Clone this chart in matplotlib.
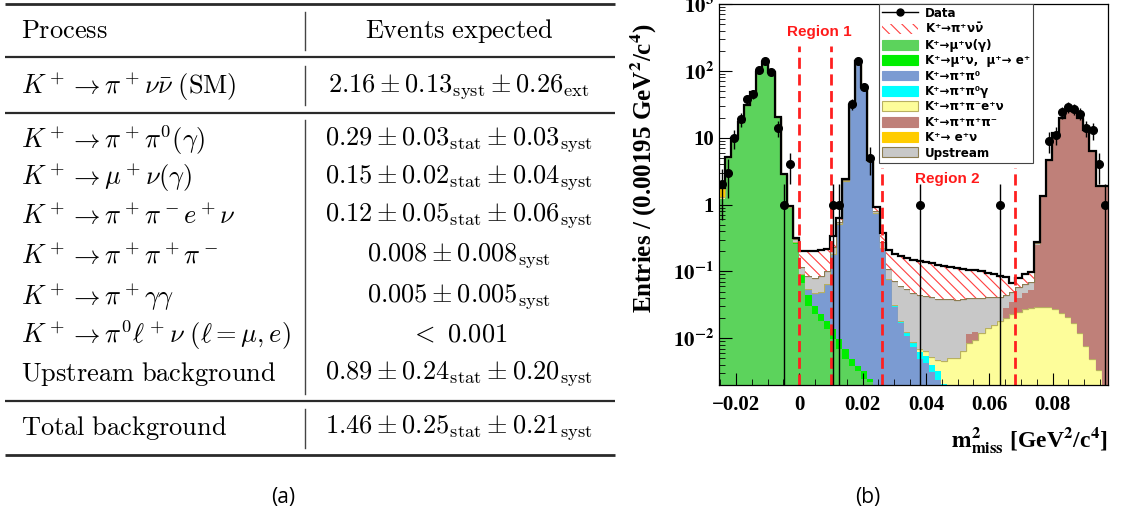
import numpy as np
import matplotlib
matplotlib.use('Agg')
import matplotlib.pyplot as plt
from matplotlib.patches import Patch
from matplotlib.lines import Line2D
from matplotlib.ticker import FuncFormatter, LogLocator, MultipleLocator, NullFormatter

plt.rcParams['font.family'] = ['Liberation Serif', 'DejaVu Serif']
plt.rcParams['font.weight'] = 'bold'
plt.rcParams['mathtext.fontset'] = 'stix'
plt.rcParams['hatch.color'] = '#ff4040'
plt.rcParams['hatch.linewidth'] = 0.8

# ---------------- (a) table ----------------
header = ['Process', 'Events expected']
signal_row = (r'$K^+ \rightarrow \pi^+\nu\bar{\nu}\ (\mathrm{SM})$',
              r'$2.16 \pm 0.13_{\mathrm{syst}} \pm 0.26_{\mathrm{ext}}$')
bkg_processes = [r'$K^+ \rightarrow \pi^+\pi^0(\gamma)$',
                 r'$K^+ \rightarrow \mu^+\nu(\gamma)$',
                 r'$K^+ \rightarrow \pi^+\pi^-e^+\nu$',
                 r'$K^+ \rightarrow \pi^+\pi^+\pi^-$',
                 r'$K^+ \rightarrow \pi^+\gamma\gamma$',
                 r'$K^+ \rightarrow \pi^0\ell^+\nu\ (\ell = \mu, e)$',
                 r'$\mathrm{Upstream\ background}$']
bkg_events = [r'$0.29 \pm 0.03_{\mathrm{stat}} \pm 0.03_{\mathrm{syst}}$',
              r'$0.15 \pm 0.02_{\mathrm{stat}} \pm 0.04_{\mathrm{syst}}$',
              r'$0.12 \pm 0.05_{\mathrm{stat}} \pm 0.06_{\mathrm{syst}}$',
              r'$0.008 \pm 0.008_{\mathrm{syst}}$',
              r'$0.005 \pm 0.005_{\mathrm{syst}}$',
              r'$<\ 0.001$',
              r'$0.89 \pm 0.24_{\mathrm{stat}} \pm 0.20_{\mathrm{syst}}$']
total_row = (r'$\mathrm{Total\ background}$',
             r'$1.46 \pm 0.25_{\mathrm{stat}} \pm 0.21_{\mathrm{syst}}$')

# ---------------- (b) histogram ----------------
bin_width = 0.00195
first_bin = -13        # in units of bin width
n_bins = 63

mu_nu = [1.2, 5.1, 10, 17, 31, 48, 97, 137, 97, 20.5, 2.85, 0.9, 0.26,
         0.068, 0.030, 0.023, 0.018, 0.0136, 0.0097, 0.0069, 0.0049, 0.0039,
         0.0032, 0.0025, 0.0022, 0.0015, 0.001] + [0] * 36
mu_nu_e = [0] * 11 + [0.02, 0.02, 0.022, 0.015, 0.007, 0.005, 0.0044, 0.0039,
                      0.0028, 0.002, 0.001, 0.0007, 0.0007, 0.0003] + [0] * 38
pi_pi0 = [0] * 14 + [0.009, 0.018, 0.027, 0.046, 0.17, 0.5, 2.25, 30.8, 141.8,
                     57.8, 4.5, 0.75, 0.22, 0.075, 0.029, 0.0167, 0.0108, 0.0074,
                     0.0049, 0.0043, 0.0031, 0.0024, 0.0015, 0.0008] + [0] * 25
pi_pi0_g = [0] * 26 + [0.004, 0.003, 0.002, 0.0015, 0.0015, 0.0015, 0.0013,
                       0.0011, 0.0009, 0.0008, 0.0006, 0.0003] + [0] * 25
pi_pi_e_nu = [0.1] + [0] * 31 + [0.0008, 0.001, 0.0012, 0.0015, 0.0025, 0.004,
                                 0.005, 0.0065, 0.0085, 0.0095, 0.012, 0.014,
                                 0.016, 0.018, 0.02, 0.023, 0.025, 0.027, 0.028,
                                 0.029, 0.029, 0.029, 0.027, 0.024, 0.021, 0.017,
                                 0.012, 0.0077, 0.0049, 0.0033, 0]
pi_pi_pi = [0] * 40 + [0.003, 0.003] + [0] * 4 + [0.008, 0.012, 0.015, 0.02, 0.025,
                                                  0.22, 1.3, 4.6, 11.6, 19.6, 25.4,
                                                  25, 19.6, 13.1, 6.4, 1.9, 1.9]
e_nu = [0.45, 0.05] + [0] * 61
upstream = [0.02] * 12 + [0.03] + [0.025, 0.031, 0.032, 0.035, 0.036, 0.05, 0.04,
                                   0.05, 0.05, 0.05, 0.05, 0.05, 0.06, 0.05, 0.032,
                                   0.041, 0.042, 0.042, 0.039, 0.038, 0.037, 0.036,
                                   0.034, 0.034, 0.033, 0.033, 0.032, 0.028, 0.028,
                                   0.028, 0.027, 0.025, 0.024, 0.017, 0.015, 0.018,
                                   0.017, 0.017, 0.02, 0.02] + [0.02] * 10
pnn_signal = [0] * 12 + [0.01] + [0.085, 0.115, 0.125, 0.125, 0.12, 0.1, 0.09, 0.1,
                                  0.1, 0.1, 0.1, 0.1, 0.12, 0.1, 0.1, 0.113, 0.11,
                                  0.106, 0.102, 0.098, 0.095, 0.092, 0.088, 0.083,
                                  0.079, 0.074, 0.07, 0.066, 0.063, 0.06, 0.055,
                                  0.051, 0.044, 0.037, 0.018, 0.022, 0.026, 0.028,
                                  0.01] + [0] * 11
data = [2, 3, 10, 19, 38, 45, 103, 141, 97, 14, 1, 4, 0,
        0, 0, 0, 0, 0, 1, 1, 0, 32, 142, 58, 5,
        0, 0, 0, 0, 0, 0, 0, 1] + [0] * 12 + [1, 0, 0, 0, 0, 0, 0, 0,
                                             9, 11, 24, 29, 27, 23, 14, 13, 4, 1]

region_edges = [0.0, 0.01, 0.026, 0.068]

layers = [
    (mu_nu, '#5cd35c', None, 'K⁺→μ⁺ν(γ)'),
    (mu_nu_e, '#00ee00', None, 'K⁺→μ⁺ν,  μ⁺→ e⁺'),
    (pi_pi0, '#7b9bd2', None, 'K⁺→π⁺π⁰'),
    (pi_pi0_g, '#00ffff', None, 'K⁺→π⁺π⁰γ'),
    (pi_pi_e_nu, '#fdfd9a', '#b8b060', 'K⁺→π⁺π⁻e⁺ν'),
    (pi_pi_pi, '#bf8079', None, 'K⁺→π⁺π⁺π⁻'),
    (e_nu, '#ffcc00', None, 'K⁺→ e⁺ν'),
    (upstream, '#c8c8c8', '#8b7b50', 'Upstream'),
]

edges = bin_width * np.arange(first_bin, first_bin + n_bins + 1)
centers = 0.5 * (edges[:-1] + edges[1:])

fig = plt.figure(figsize=(11.21, 5.19), dpi=100)

# table drawn in pixel coordinates
tab = fig.add_axes([0, 0, 1, 1])
tab.set_xlim(0, 1121)
tab.set_ylim(519, 0)
tab.axis('off')
rule_c = '#2a2a2a'
for y, lw in [(4, 2.0), (57, 1.6), (113, 1.6), (401, 1.6), (455, 2.0)]:
    tab.plot([5, 615], [y, y], color=rule_c, lw=lw, solid_capstyle='butt')
for y0, y1 in [(12, 50), (66, 105), (120, 394), (409, 448)]:
    tab.plot([305, 305], [y0, y1], color='#444444', lw=1.0)

tfs = 19
col1_x, col2_x = 21, 459
def row(y, left, right):
    tab.text(col1_x, y, left, fontsize=tfs, math_fontfamily='cm', ha='left', va='center')
    tab.text(col2_x, y, right, fontsize=tfs, math_fontfamily='cm', ha='center', va='center')

row(31, r'$\mathrm{%s}$' % header[0], r'$\mathrm{Events\ expected}$')
row(87, *signal_row)
for y, p, e in zip([140, 178, 216, 256, 297, 335, 374], bkg_processes, bkg_events):
    row(y, p, e)
row(428, *total_row)

fig.text(283 / 1121, 1 - 497 / 519, '(a)', ha='center', va='center', fontsize=15,
         family='Open Sans', fontweight='normal')
fig.text(868 / 1121, 1 - 497 / 519, '(b)', ha='center', va='center', fontsize=15,
         family='Open Sans', fontweight='normal')

# histogram
ax = fig.add_axes([719 / 1121, 1 - 385 / 519, 389 / 1121, 381 / 519])
ax.set_yscale('log')

bottom = np.full(n_bins, 1e-6)
for vals, face, edge, _ in layers:
    top = bottom + np.asarray(vals, dtype=float)
    ax.stairs(top, edges, baseline=bottom, fill=True, facecolor=face, edgecolor='none', lw=0)
    if edge is not None:
        ax.stairs(top, edges, baseline=None, color=edge, lw=0.9)
    bottom = top

sig_top = bottom + np.asarray(pnn_signal, dtype=float)
ax.stairs(sig_top, edges, baseline=bottom, fill=True, facecolor='white',
          edgecolor='#ff4040', hatch='\\\\\\', lw=0)
ax.stairs(sig_top, edges, baseline=None, color='black', lw=1.6)

for i, x in enumerate(region_edges):
    top_frac = 0.89 if i < 2 else 0.57
    ax.axvline(x, ymin=0, ymax=top_frac, color='#ff2020', lw=2.0, ls=(0, (4, 2)))

d = np.asarray(data, dtype=float)
m = d > 0
err = np.sqrt(d[m])
lo = np.minimum(err, d[m] - 1e-7)
ax.errorbar(centers[m], d[m], yerr=[lo, err], fmt='o', color='black', ms=5.5,
            elinewidth=1.0, capsize=0, zorder=5)

ax.text(0.0063, 0.927, 'Region 1', transform=ax.get_xaxis_transform(), color='#ff1a1a',
        fontsize=11, family='Liberation Sans', fontweight='bold', ha='center', va='center')
ax.text(0.0467, 0.54, 'Region 2', transform=ax.get_xaxis_transform(), color='#ff1a1a',
        fontsize=11, family='Liberation Sans', fontweight='bold', ha='center', va='center')

ax.set_xlim(edges[0], edges[-1])
ax.set_ylim(0.002, 1000)

ax.xaxis.set_major_locator(MultipleLocator(0.02))
ax.xaxis.set_minor_locator(MultipleLocator(0.005))
ax.xaxis.set_major_formatter(FuncFormatter(
    lambda v, p: '0' if abs(v) < 1e-9 else ('%g' % v).replace('-', '\u2212')))
ax.yaxis.set_major_locator(LogLocator(base=10, numticks=10))
ax.yaxis.set_minor_locator(LogLocator(base=10, subs=np.arange(2, 10), numticks=20))
ax.yaxis.set_minor_formatter(NullFormatter())
ylab = {-2: r'$\mathbf{10^{-2}}$', -1: r'$\mathbf{10^{-1}}$', 0: '1', 1: '10',
        2: r'$\mathbf{10^{2}}$', 3: r'$\mathbf{10^{3}}$'}
ax.yaxis.set_major_formatter(FuncFormatter(lambda v, p: ylab.get(int(round(np.log10(v))), '')))
ax.tick_params(which='both', direction='in', labelsize=15)
ax.tick_params(which='major', length=9, width=0.8)
ax.tick_params(which='minor', length=4.5, width=0.6)
ax.tick_params(axis='x', pad=7)
for s in ax.spines.values():
    s.set_linewidth(0.9)

ax.set_ylabel('Entries / (0.00195 GeV$^{\\mathbf{2}}$/c$^{\\mathbf{4}}$)', fontsize=18,
              fontweight='bold')
ax.yaxis.set_label_coords(-0.155, 0.568)
ax.text(1.0, -0.145, r'$\mathbf{m^{2}_{miss}}$ [GeV$^{\mathbf{2}}$/c$^{\mathbf{4}}$]',
        transform=ax.transAxes, ha='right', va='center', fontsize=17, fontweight='bold')

handles = [Line2D([], [], color='black', marker='o', ms=5, lw=1.0),
           Patch(facecolor='white', edgecolor='#ff4040', hatch='\\\\\\', lw=0)]
labels = ['Data', 'K⁺→π⁺ν$\\bar{\\nu}$']
for vals, face, edge, lab in layers:
    handles.append(Patch(facecolor=face, edgecolor=edge if edge else face, lw=0.8))
    labels.append(lab)
leg = ax.legend(handles, labels, loc='upper left', bbox_to_anchor=(0.411, 1.0),
                frameon=True, fancybox=False, framealpha=1, edgecolor='#444444',
                prop={'family': ['DejaVu Sans'], 'weight': 'bold', 'size': 8.6},
                labelspacing=0.2, handlelength=3.0, handleheight=0.9, handletextpad=0.6,
                borderpad=0.25, borderaxespad=0)
leg.get_frame().set_linewidth(0.8)
for t in leg.get_texts():
    t.set_math_fontfamily('dejavusans')

fig.savefig('out.png', dpi=100)
